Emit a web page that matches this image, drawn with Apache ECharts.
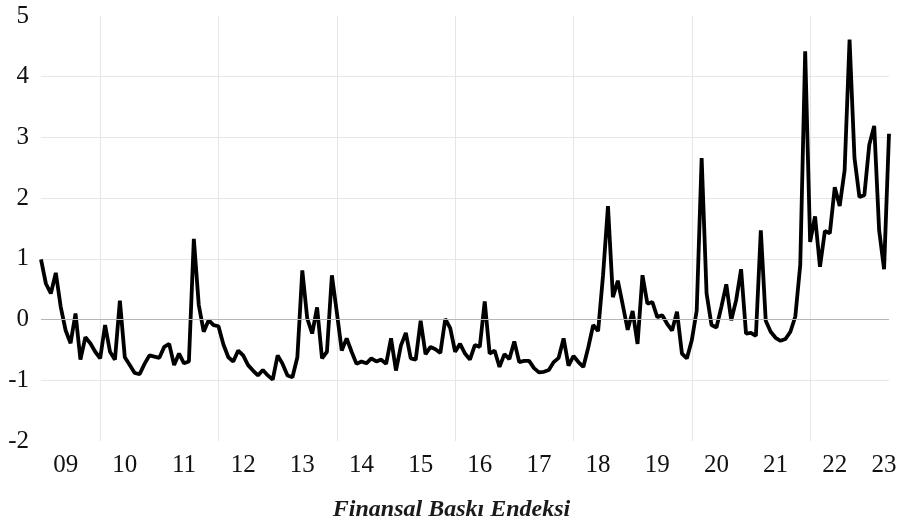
<!DOCTYPE html>
<html>
<head>
<meta charset="utf-8">
<script src="https://cdn.jsdelivr.net/npm/echarts@6/dist/echarts.min.js"></script>
<style>
  html, body { margin: 0; padding: 0; background: #fff; }
  #chart { width: 903px; height: 525px; }
</style>
</head>
<body>
<div id="chart"></div>
<script>
// aylık veri: Ocak 2009 - Mayıs 2023
const startYear = 2009;
const fbe = [
  0.99, 0.59, 0.43, 0.77, 0.21, -0.18, -0.39, 0.10, -0.66, -0.29, -0.39, -0.53,
  -0.64, -0.09, -0.53, -0.66, 0.31, -0.62, -0.75, -0.88, -0.90, -0.73, -0.59, -0.61,
  -0.63, -0.45, -0.40, -0.75, -0.56, -0.72, -0.69, 1.33, 0.24, -0.20, -0.01, -0.09,
  -0.11, -0.41, -0.62, -0.69, -0.51, -0.59, -0.75, -0.84, -0.92, -0.83, -0.92, -0.99,
  -0.59, -0.73, -0.92, -0.95, -0.62, 0.81, 0.02, -0.23, 0.20, -0.64, -0.53, 0.73,
  0.12, -0.51, -0.31, -0.53, -0.73, -0.69, -0.72, -0.64, -0.69, -0.66, -0.73, -0.31,
  -0.84, -0.43, -0.22, -0.64, -0.66, -0.02, -0.57, -0.45, -0.49, -0.55, 0.01, -0.14,
  -0.53, -0.40, -0.56, -0.66, -0.42, -0.45, 0.30, -0.56, -0.51, -0.78, -0.57, -0.65,
  -0.36, -0.70, -0.68, -0.68, -0.80, -0.87, -0.86, -0.83, -0.70, -0.63, -0.31, -0.76,
  -0.60, -0.70, -0.78, -0.46, -0.09, -0.19, 0.73, 1.87, 0.37, 0.64, 0.24, -0.17,
  0.14, -0.40, 0.73, 0.26, 0.29, 0.04, 0.07, -0.07, -0.18, 0.13, -0.56, -0.64,
  -0.34, 0.15, 2.66, 0.43, -0.09, -0.13, 0.21, 0.58, -0.01, 0.32, 0.83, -0.23,
  -0.22, -0.27, 1.47, -0.02, -0.20, -0.30, -0.35, -0.32, -0.20, 0.05, 0.90, 4.42,
  1.28, 1.70, 0.87, 1.46, 1.42, 2.18, 1.87, 2.46, 4.61, 2.66, 2.02, 2.05,
  2.88, 3.19, 1.47, 0.83, 3.06
];

// kategoriler: "2009-01" ...
let months = [];
for (let i = 0; i < fbe.length; i++) {
  let y = startYear + Math.floor(i / 12);
  let m = (i % 12) + 1;
  months.push(y + "-" + (m < 10 ? "0" + m : m));
}

const serif = "'Liberation Serif', 'Times New Roman', serif";

let chart = echarts.init(document.getElementById("chart"));
chart.setOption({
  animation: false,
  title: {
    text: "Finansal Baskı Endeksi",
    left: "center",
    top: 493,
    textStyle: {
      fontFamily: serif,
      fontStyle: "italic",
      fontWeight: "bold",
      fontSize: 24,
      color: "#1a1a1a"
    }
  },
  grid: { left: 41, right: 14, top: 16, bottom: 84 },
  xAxis: {
    type: "category",
    data: months,
    boundaryGap: false,
    axisLine: { show: false },
    axisTick: { show: false },
    axisLabel: {
      interval: (idx) => idx % 12 === 5 || idx === 171,
      formatter: (v) => v.slice(2, 4),
      fontFamily: serif,
      fontSize: 25,
      color: "#111",
      margin: 12
    },
    splitLine: {
      show: true,
      interval: (idx) => idx % 24 === 12,
      lineStyle: { color: "#e6e6e6", width: 1 }
    }
  },
  yAxis: {
    type: "value",
    min: -2,
    max: 5,
    interval: 1,
    axisLine: { show: false },
    axisTick: { show: false },
    axisLabel: {
      fontFamily: serif,
      fontSize: 25,
      color: "#111",
      margin: 12
    },
    splitLine: {
      show: true,
      showMinLine: false,
      showMaxLine: false,
      lineStyle: { color: "#e6e6e6", width: 1 }
    }
  },
  series: [{
    type: "line",
    data: fbe,
    symbol: "none",
    lineStyle: { color: "#000", width: 3.8 },
    markLine: {
      silent: true,
      symbol: ["none", "none"],
      label: { show: false },
      lineStyle: { color: "#b5b5b5", width: 1, type: "solid" },
      data: [{ yAxis: 0 }]
    }
  }]
});
</script>
</body>
</html>
